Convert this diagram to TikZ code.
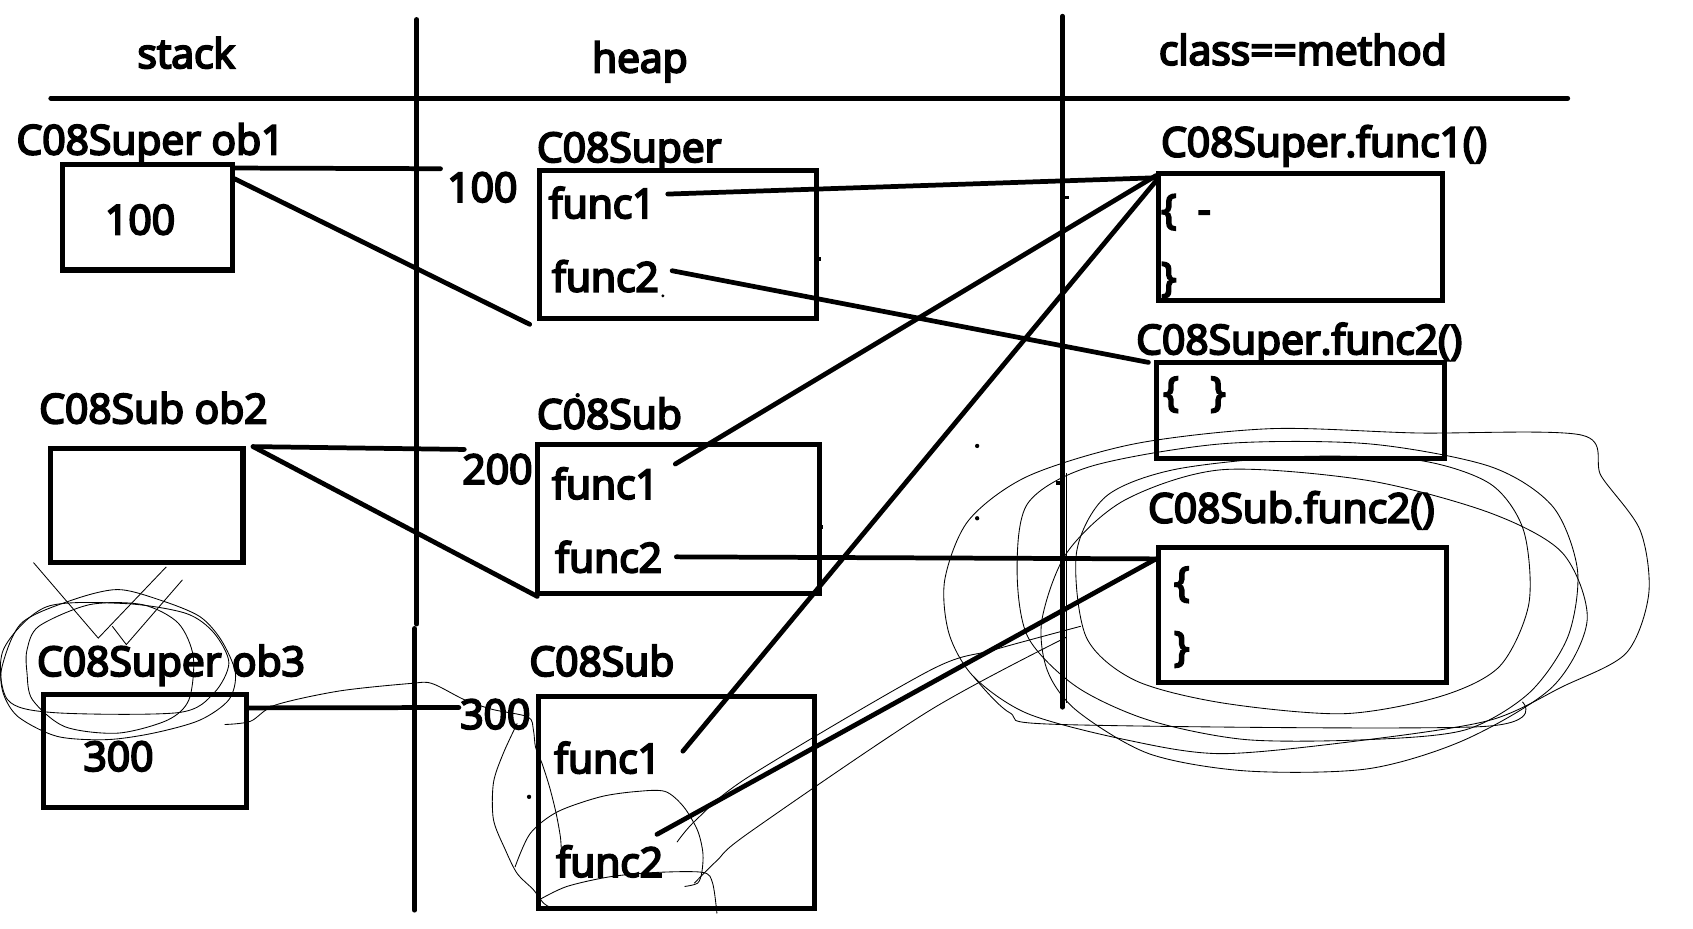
\documentclass[tikz,border=0pt]{standalone}
\usepackage{fontspec}
\setmainfont{Open Sans}[FakeBold=5]
\usetikzlibrary{calc,fit}

\begin{document}
\begin{tikzpicture}[x=0.02cm,y=-0.02cm,
	txt/.style={anchor=base west,inner sep=0pt,font=\fontsize{21.5}{25}\selectfont},
	membox/.style={draw,line width=2.7pt,inner sep=0pt},
	link/.style={line width=2.5pt,line cap=round},
	scribble/.style={line width=0.45pt}]
		\useasboundingbox (0,0) rectangle (1568,860);
		% Header
		\node[txt] (stack) at (127,63) {stack};
		\node[txt] (heap) at (548,67) {heap};
		\node[txt] (meth) at (1073,60) {class==method};
		\draw[link] (47,91) -- (1452,91);
		\draw[link] (386,18) -- (386,578);
		\draw[link] (384,582) -- (384,843);
		\draw[link] (984,15) -- (984,655);
		% Stack
		\node[txt] (lob1) at (15,143) {C08Super ob1};
		\node[membox,fit={(58,152) (215,250)}] (ob1) {};
		\node[txt] (v1) at (97,217) {100};
		\node[txt] (lob2) at (36,392) {C08Sub ob2};
		\node[membox,fit={(47,415) (225,521)}] (ob2) {};
		\node[txt] (lob3) at (34,626) {C08Super ob3};
		\node[membox,fit={(40,643) (228,748)}] (ob3) {};
		\node[txt] (v3) at (77,714) {300};
		% Heap
		\node[txt] (a1) at (414,187) {100};
		\node[txt] (lsup) at (497,150) {C08Super};
		\node[membox,fit={(500,158) (756,295)}] (hsup) {};
		\node[txt] (f11) at (508,202) {func1};
		\node[txt] (f12) at (511,270) {func2};
		\node[txt] (a2) at (428,448) {200};
		\node[txt] (lsub1) at (497,397) {C08Sub};
		\node[membox,fit={(498,412) (759,550)}] (hsub1) {};
		\node[txt] (f21) at (511,462) {func1};
		\node[txt] (f22) at (514,530) {func2};
		\node[txt] (a3) at (426,675) {300};
		\node[txt] (lsub2) at (490,626) {C08Sub};
		\node[membox,fit={(499,645) (754,841)}] (hsub2) {};
		\node[txt] (f31) at (513,716) {func1};
		\node[txt] (f32) at (515,812) {func2};
		% Method area
		\node[txt] (lm1) at (1075,145) {C08Super.func1()};
		\node[membox,fit={(1073,161) (1336,278)}] (msup1) {};
		\node[txt] (m1a) at (1075,207) {\{ \ -};
		\node[txt] (m1b) at (1075,270) {\}};
		\node[txt] (lm2) at (1052,328) {C08Super.func2()};
		\node[membox,fit={(1071,336) (1338,425)}] (msup2) {};
		\node[txt] (m2a) at (1077,376) {\{ \ \ \}};
		\node[txt] (lm3) at (1063,484) {C08Sub.func2()};
		\node[membox,fit={(1073,507) (1340,632)}] (msub2) {};
		\node[txt] (m3a) at (1087,552) {\{};
		\node[txt] (m3b) at (1087,612) {\}};
		% References
		\draw[link] ($(ob1.north east)+(0,6)$) -- ($(a1.north west)+(-6,-3)$);
		\draw[link] ($(ob1.north east)+(0,16)$) -- ($(hsup.south west)+(-7,3)$);
		\draw[link] ($(ob2.north east)+(7,1)$) -- ($(a2.north west)+(2,-4)$);
		\draw[link] ($(ob2.north east)+(7,1)$) -- ($(hsub1.south west)+(2,0)$);
		\draw[link] ($(ob3.north east)+(0,15)$) -- ($(a3.north west)+(-1,8)$);
		\draw[link] ($(f11.east)+(11,-8)$) -- ($(msup1.north west)+(0,6)$);
		\draw[link] ($(f12.east)+(12,-5)$) -- ($(msup2.north west)+(-5,2)$);
		\draw[link] ($(f21.east)+(15,-18)$) -- ($(msup1.north west)+(0,4)$);
		\draw[link] ($(f22.east)+(13,0)$) -- ($(msub2.north west)+(2,13)$);
		\draw[link] ($(f31.east)+(20,-6)$) -- ($(msup1.north west)+(0,9)$);
		\draw[link] ($(f32.east)+(-6,-25)$) -- ($(msub2.north west)+(0,13)$);
		% Marks
		\fill (614,274) circle (1.5);
		\fill (535,366) circle (2);
		\fill (905,413) circle (2);
		\fill (905,480) circle (2);
		\fill (490,738) circle (2);
		\draw[line width=2pt] (984,183) -- (990,183);
		\draw[line width=2pt] (978,447) -- (984,447);
		\draw[line width=2pt] (756,240) -- (760,240);
		\draw[line width=2pt] (759,488) -- (762,488);
		% Scribbles round C08Sub.func2()
		\draw[scribble] plot[smooth cycle] coordinates {(875,537) (897,482) (952,441) (1051,411) (1177,397) (1312,401) (1465,403) (1483,441) (1519,491) (1527,550) (1506,605) (1447,636) (1380,667) (1267,685) (1132,698) (1042,685) (952,661) (902,627) (879,587)};
		\draw[scribble] plot[smooth cycle] coordinates {(942,528) (952,466) (1010,432) (1132,411) (1267,411) (1380,432) (1438,469) (1461,528) (1452,590) (1416,642) (1357,676) (1267,685) (1154,685) (1064,667) (997,636) (952,590)};
		\draw[scribble] plot[smooth cycle] coordinates {(997,512) (1024,460) (1087,435) (1199,423) (1312,426) (1380,448) (1411,491) (1416,559) (1389,617) (1334,645) (1244,661) (1132,651) (1051,630) (1006,590)};
		\draw[scribble] plot[smooth cycle] coordinates {(965,574) (988,512) (1042,463) (1132,435) (1267,445) (1380,475) (1447,512) (1470,574) (1438,636) (1357,685) (1267,712) (1154,714) (1064,698) (997,658) (970,621)};
		\draw[scribble] plot[smooth] coordinates {(902,627) (935,660) (983,671) (1371,673) (1410,650)};
		\draw[scribble] (988,438) -- (988,651);
		% Scribbles from func2
		\draw[scribble] plot[smooth] coordinates {(627,780) (645,759) (694,719) (861,621) (920,602) (1001,580)};
		\draw[scribble] plot[smooth] coordinates {(643,818) (664,797) (694,771) (861,658) (988,590)};
		% Scribbles round C08Super ob3
		\draw[scribble] plot[smooth cycle] coordinates {(2,617) (20,577) (66,556) (109,546) (149,556) (185,571) (205,593) (218,623) (212,648) (185,667) (142,679) (99,685) (53,682) (17,664) (3,642)};
		\draw[scribble] plot[smooth cycle] coordinates {(25,602) (36,580) (83,560) (132,560) (165,577) (179,608) (175,648) (155,667) (109,679) (60,673) (30,648) (25,623)};
		\draw[scribble] plot[smooth cycle] coordinates {(3,602) (43,562) (116,559) (172,568) (198,586) (212,614) (198,642) (165,660) (50,660) (7,648)};
		\draw[scribble] (31,521) -- (91,591) -- (154,525);
		\draw[scribble] (104,580) -- (117,597) -- (169,537);
		\draw[scribble] plot[smooth] coordinates {(208,671) (232,668) (255,653) (314,640) (380,633) (400,633) (430,648) (456,657) (489,664) (494,676) (496,692) (502,707) (509,729) (515,753) (519,775) (520,790)};
		% Scribbles round heap func2
		\draw[scribble] plot[smooth] coordinates {(479,670) (466,698) (457,725) (457,759) (468,787) (479,809) (494,824) (503,836) (509,840)};
		\draw[scribble] plot[smooth] coordinates {(477,803) (491,772) (516,752) (556,738) (590,733) (616,733) (633,747) (646,769) (651,790) (650,808) (646,818) (634,821)};
		\draw[scribble] plot[smooth] coordinates {(500,833) (525,821) (565,812) (608,808) (651,808) (660,818) (664,846)};
\end{tikzpicture}
\end{document}
